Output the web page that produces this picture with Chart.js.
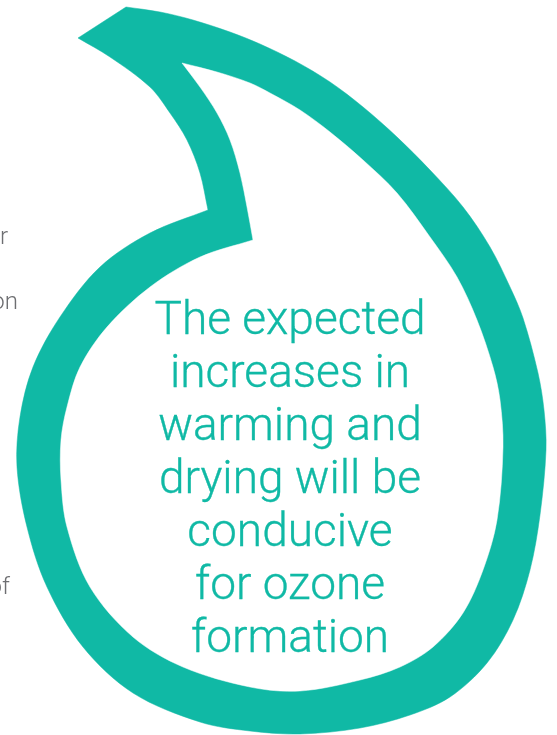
<!DOCTYPE html>
<html>
<head>
<meta charset="utf-8">
<script src="https://cdn.jsdelivr.net/npm/chart.js@4"></script>
<style>
  html, body { margin:0; padding:0; background:#fff; overflow:hidden; }
  #wrap { position:relative; width:557px; height:735px; }
  #c { position:absolute; left:0; top:0; }
  .quote { position:absolute; left:90px; width:400px; top:292px; text-align:center;
           font-family: Roboto, "Liberation Sans", sans-serif; font-weight:300;
           font-size:46px; line-height:53px; color:#10b9a5; -webkit-text-stroke:0.35px #10b9a5; }
  .frag { position:absolute; width:0; text-align:right;
          font-family: Roboto, "Liberation Sans", sans-serif; font-weight:300;
          font-size:24px; color:#6d6e71; white-space:nowrap; direction:rtl; }
</style>
</head>
<body>
<div id="wrap">
  <canvas id="c" width="557" height="735"></canvas>
  <div class="quote" id="quote"></div>
  <div id="frags"></div>
</div>
<script>
// Outer edge of the quote-mark outline (corners repeated)
const outerX = [78,78,126,126,160,193,230,260,295,330,363,397,430,463,490,510,523,538,544,546,540,530,513,487,450,410,360,300,250,200,133,83,47,27,17,20,33,60,100,150,208,208,200,187,170,150,110,78];
const outerY = [38,38,7,7,12,20,32,44,61,82,107,137,170,207,247,287,318,373,410,450,515,570,620,663,697,715,728,734,731,722,693,647,587,527,467,417,367,317,267,233,210,210,173,140,113,87,57,38];
// Inner edge (the white hole) of the outline
const innerX = [182,182,217,250,270,300,330,363,397,430,457,477,493,500,503,497,483,463,433,400,360,300,250,183,133,90,67,61,61,67,80,107,150,200,253,253,247,240,230,217,200,182];
const innerY = [63,63,72,83,93,110,132,160,193,237,277,320,367,400,447,520,570,613,647,667,680,691,687,667,637,587,527,480,440,407,367,327,287,257,240,240,207,173,140,113,87,63];
const quoteLines = ["The expected","increases in","warming and","drying will be","conducive","for ozone","formation"];
const fragTexts = ["r","on","of"];
const fragRight = [8,18,10];
const fragTop = [222,287,572];

const teal = '#10b9a5';
const toPts = (xs, ys) => xs.map((x, i) => ({x: x, y: ys[i]}));

new Chart(document.getElementById('c'), {
  type: 'line',
  data: {
    datasets: [
      { data: toPts(outerX, outerY), fill: 'shape', backgroundColor: teal,
        borderColor: teal, borderWidth: 0.5, pointRadius: 0, tension: 0.33,
        cubicInterpolationMode: 'default', order: 2 },
      { data: toPts(innerX, innerY), fill: 'shape', backgroundColor: '#ffffff',
        borderColor: '#ffffff', borderWidth: 0.5, pointRadius: 0, tension: 0.33,
        cubicInterpolationMode: 'default', order: 1 }
    ]
  },
  options: {
    responsive: false,
    animation: false,
    events: [],
    parsing: true,
    layout: { padding: 0 },
    plugins: { legend: { display: false }, tooltip: { enabled: false }, title: { display: false } },
    scales: {
      x: { type: 'linear', min: 0, max: 557, display: false },
      y: { type: 'linear', min: 0, max: 735, reverse: true, display: false }
    }
  }
});

document.getElementById('quote').innerHTML = quoteLines.join('<br>');
const fr = document.getElementById('frags');
fragTexts.forEach((t, i) => {
  const d = document.createElement('div');
  d.className = 'frag';
  d.style.left = fragRight[i] + 'px';
  d.style.top = fragTop[i] + 'px';
  d.textContent = t;
  fr.appendChild(d);
});
</script>
</body>
</html>
